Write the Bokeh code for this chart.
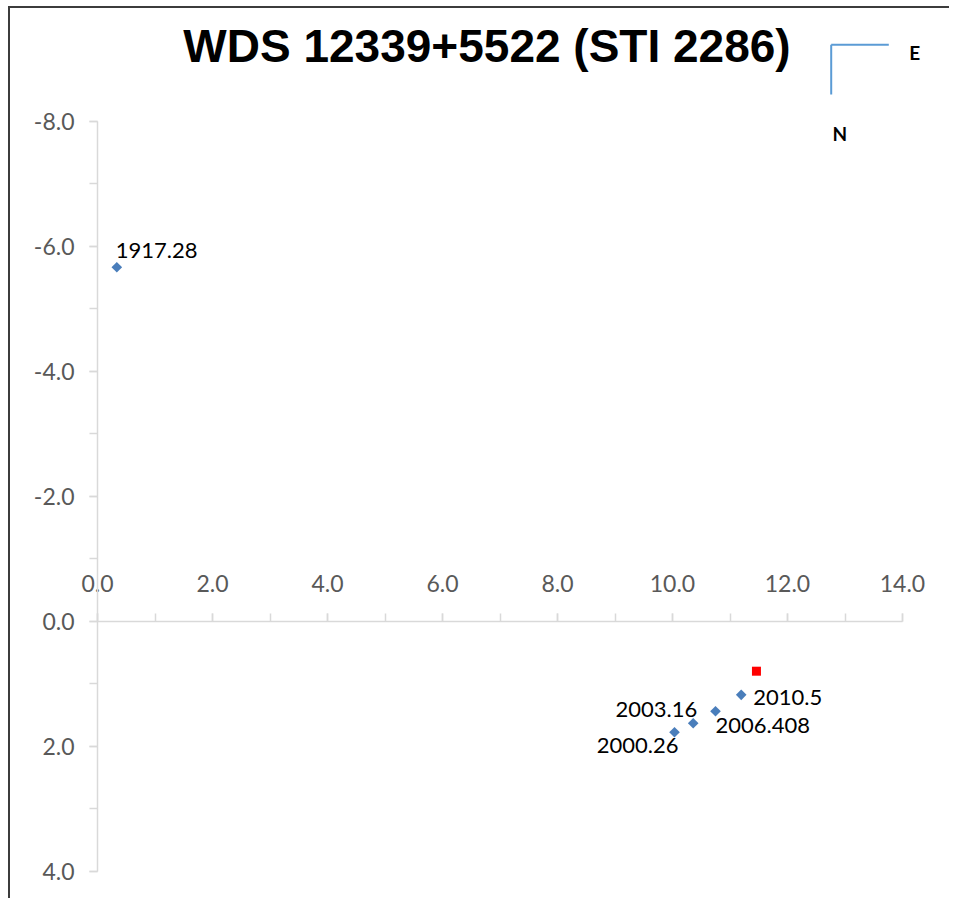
from bokeh.plotting import figure
from bokeh.models import Range1d, LinearAxis, SingleIntervalTicker, NumeralTickFormatter, ColumnDataSource, Label
from bokeh.core.properties import value
from bokeh.embed import file_html
from bokeh.resources import INLINE
import numpy as np

# ---------------- data ----------------
title_text = "WDS 12339+5522 (STI 2286)"
epochs = ["1917.28", "2000.26", "2003.16", "2006.408", "2010.5"]
x_obs = [0.336, 10.035, 10.36, 10.748, 11.195]
y_obs = [-5.664, 1.776, 1.632, 1.44, 1.178]
x_pred = [11.46]
y_pred = [0.80]
x_bounds = (0, 14)
y_bounds = (-8, 4)
compass_labels = ["E", "N"]

# ---------------- label styling (screen offsets) ----------------
label_align = ["left", "right", "right", "left", "left"]
label_dx = [-1, 4, 4, 0, 12]
label_dy = [-17, 13, -14, 14, 3]

# ---------------- layout ----------------
W, H = 941, 892
OX, OY = 10, 8            # image px of canvas origin
X0 = 87                   # canvas px of x = 0
PPX = 57.5                # px per x unit
Y8 = 112.7                # canvas px of y = -8
PPY = 62.5                # px per y unit
x_start = -X0 / PPX
x_end = (W - X0) / PPX
y_top = -8 - Y8 / PPY
y_bot = -8 + (H - Y8) / PPY

def dx(px):  # image px -> data x
    return (px - OX - X0) / PPX

def dy(py):  # image px -> data y
    return -8 + (py - OY - Y8) / PPY

p = figure(width=W, height=H, output_backend="svg", toolbar_location=None,
           x_range=Range1d(x_start, x_end), y_range=Range1d(y_bot, y_top),
           x_axis_location=None, y_axis_location=None,
           min_border_left=0, min_border_right=0, min_border_top=0, min_border_bottom=0,
           outline_line_color=None, background_fill_color="white", border_fill_color="white",
           styles={"border-top": "2px solid #3c3c3c", "border-left": "2px solid #3c3c3c",
                   "margin-left": "8px", "margin-top": "6px"})
p.grid.grid_line_color = None

axis_style = dict(axis_line_color="#D9D9D9", axis_line_width=1.5,
                  major_tick_line_color="#D9D9D9", minor_tick_line_color="#D9D9D9",
                  major_tick_line_width=1.5, minor_tick_line_width=1.5,
                  major_tick_in=0, major_tick_out=8, minor_tick_in=0, minor_tick_out=8,
                  major_label_text_color="#595959", major_label_text_font="Lato",
                  major_label_text_font_size="23px",
                  formatter=NumeralTickFormatter(format="0.0"))

xaxis = LinearAxis(fixed_location=0, bounds=x_bounds, major_label_standoff=21,
                   ticker=SingleIntervalTicker(interval=2, num_minor_ticks=2), **axis_style)
p.add_layout(xaxis, "above")
yaxis = LinearAxis(fixed_location=0, bounds=y_bounds, major_label_standoff=15,
                   ticker=SingleIntervalTicker(interval=2, num_minor_ticks=2), **axis_style)
p.add_layout(yaxis, "left")

src = ColumnDataSource(dict(x=x_obs, y=y_obs, t=epochs, align=label_align,
                            dx=label_dx, dy=label_dy))
p.scatter("x", "y", source=src, marker="square", angle=np.pi / 4, size=7.5,
          fill_color="#4A7EBB", line_color=None)
p.scatter(x_pred, y_pred, marker="square", size=9, fill_color="#FF0000", line_color=None)
p.text("x", "y", text="t", source=src, x_offset="dx", y_offset="dy",
       text_align="align", text_baseline="middle", text_font=value("Lato"),
       text_font_size="22px", text_color="black")

# title
p.add_layout(Label(x=dx(486.5), y=dy(45), text=title_text, text_align="center",
                   text_baseline="middle", text_font="Liberation Sans",
                   text_font_style="bold", text_font_size="46px", text_color="black"))

# compass
p.segment(x0=[dx(830.7), dx(830.7)], y0=[dy(44.3), dy(44.3)],
          x1=[dx(888.3), dx(830.7)], y1=[dy(44.3), dy(94)],
          line_color="#5B9BD5", line_width=2)
p.add_layout(Label(x=dx(914.3), y=dy(51.7), text=compass_labels[0], text_align="center",
                   text_baseline="middle", text_font="Lato", text_font_style="bold",
                   text_font_size="19px", text_color="black"))
p.add_layout(Label(x=dx(839.3), y=dy(132.7), text=compass_labels[1], text_align="center",
                   text_baseline="middle", text_font="Lato", text_font_style="bold",
                   text_font_size="19px", text_color="black"))

open("out.html", "w").write(file_html(p, INLINE))
